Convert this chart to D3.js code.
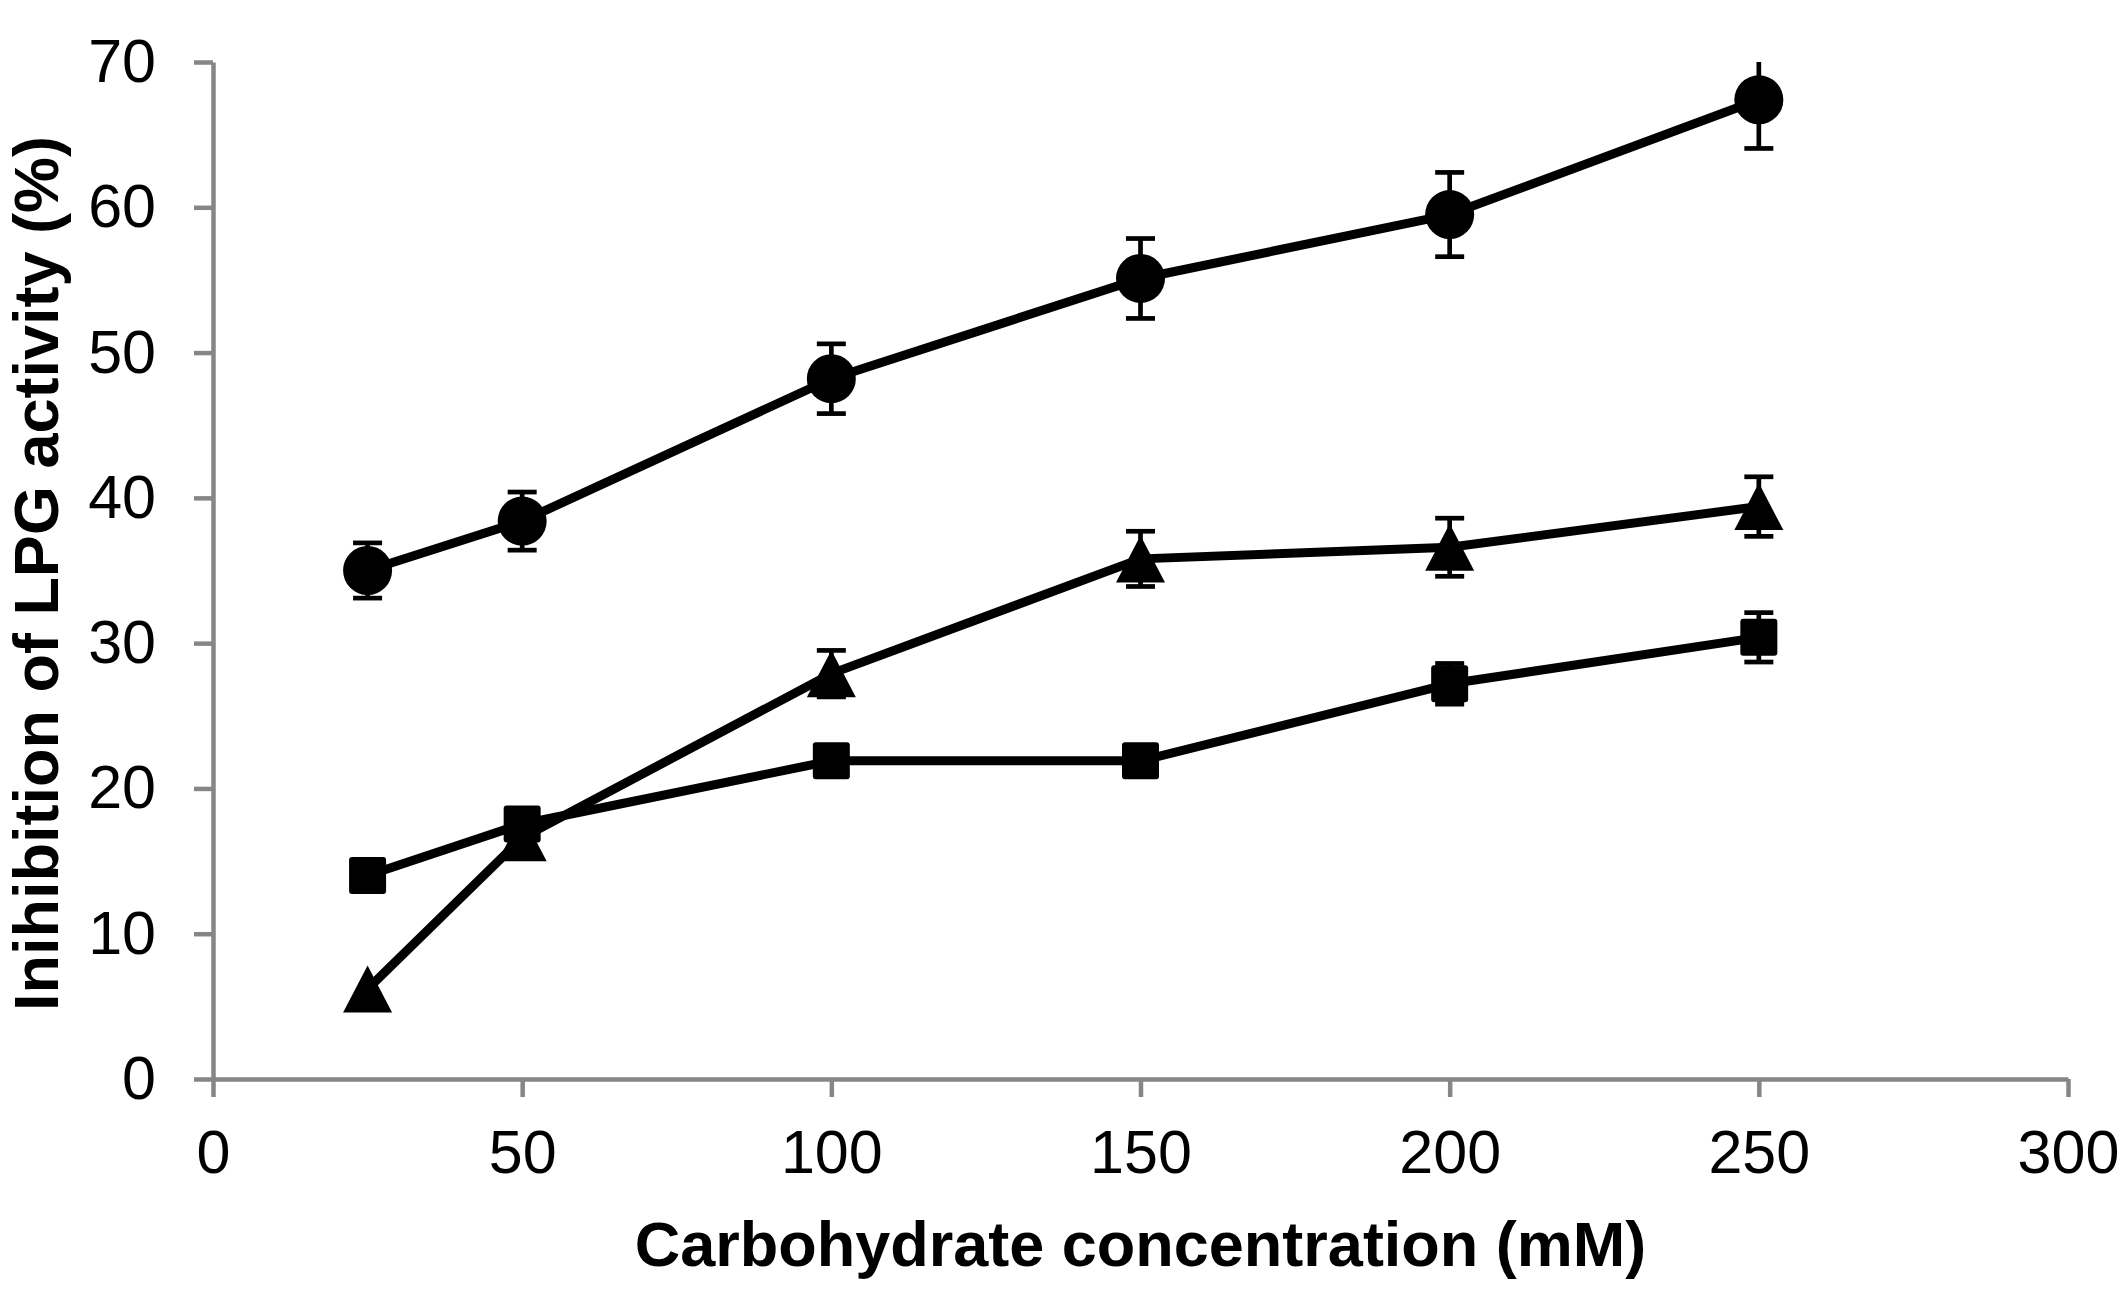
<!DOCTYPE html>
<html>
<head>
<meta charset="utf-8">
<script src="https://cdn.jsdelivr.net/npm/d3@7.9.0/dist/d3.min.js"></script>
<style>
  html, body { margin: 0; padding: 0; background: #fff; }
  svg { display: block; font-family: Arial, "Liberation Sans", sans-serif; }
  .axis path, .axis line { stroke: #868686; stroke-width: 4.5; }
  .axis text { font-size: 61px; fill: #000; font-family: Arial, "Liberation Sans", sans-serif; }
  .title { font-size: 63px; font-weight: bold; fill: #000; }
</style>
</head>
<body>
<svg id="chart" width="2125" height="1299"></svg>
<script>
// carbohydrate concentration (mM)
const concentrations = [25, 50, 100, 150, 200, 250];

// inhibition (%) and error bars, one pair per marker series
const circleValues = [35.0, 38.4, 48.2, 55.1, 59.5, 67.4];
const circleErrors = [1.9, 2.0, 2.4, 2.75, 2.9, 3.35];
const triangleValues = [6.2, 16.6, 27.9, 35.8, 36.6, 39.4];
const triangleErrors = [0, 0, 1.6, 1.9, 2.0, 2.05];
const squareValues = [14.0, 17.55, 21.9, 21.9, 27.2, 30.4];
const squareErrors = [0.4, 0.4, 0.4, 0.4, 1.4, 1.7];

const xTicks = [0, 50, 100, 150, 200, 250, 300];
const yTicks = [0, 10, 20, 30, 40, 50, 60, 70];

const xTitle = 'Carbohydrate concentration (mM)';
const yTitle = 'Inihibition of LPG activity (%)';

const plotLeft = 213, plotRight = 2068, plotTop = 62, plotBottom = 1079;

const svg = d3.select('#chart');

const x = d3.scaleLinear().domain([0, 300]).range([plotLeft, plotRight]);
const y = d3.scaleLinear().domain([0, 70]).range([plotBottom, plotTop]);

// axes
svg.append('g')
  .attr('class', 'axis')
  .attr('transform', `translate(0,${plotBottom})`)
  .call(d3.axisBottom(x).tickValues(xTicks).tickSize(18).tickSizeOuter(0).tickPadding(33));

svg.append('g')
  .attr('class', 'axis')
  .attr('transform', `translate(${plotLeft},0)`)
  .call(d3.axisLeft(y).tickValues(yTicks).tickSize(19).tickSizeOuter(0).tickPadding(38));

svg.selectAll('.axis').attr('font-family', null).attr('font-size', null);

// titles
svg.append('text')
  .attr('class', 'title')
  .attr('x', (plotLeft + plotRight) / 2)
  .attr('y', 1266)
  .attr('text-anchor', 'middle')
  .text(xTitle);

svg.append('text')
  .attr('class', 'title')
  .attr('transform', `translate(58,${(plotTop + plotBottom) / 2 + 3}) rotate(-90)`)
  .attr('text-anchor', 'middle')
  .text(yTitle);

svg.append('clipPath')
  .attr('id', 'plot-clip')
  .append('rect')
  .attr('x', plotLeft)
  .attr('y', plotTop)
  .attr('width', plotRight - plotLeft)
  .attr('height', plotBottom - plotTop);

const series = [
  { shape: 'circle', values: circleValues, errors: circleErrors },
  { shape: 'square', values: squareValues, errors: squareErrors },
  { shape: 'triangle', values: triangleValues, errors: triangleErrors }
];

const line = d3.line()
  .x((d) => x(d.conc))
  .y((d) => y(d.value));

const capHalf = 14.5;

series.forEach((s) => {
  const points = concentrations.map((conc, i) => ({
    conc,
    value: s.values[i],
    err: s.errors[i]
  }));
  const withErr = points.filter((d) => d.err > 0);

  const g = svg.append('g');

  // error bars
  const bars = g.append('g')
    .attr('clip-path', 'url(#plot-clip)')
    .attr('stroke', '#000')
    .attr('stroke-width', 4.7);

  bars.selectAll('line.stem')
    .data(withErr)
    .join('line')
    .attr('class', 'stem')
    .attr('x1', (d) => x(d.conc))
    .attr('x2', (d) => x(d.conc))
    .attr('y1', (d) => y(d.value + d.err))
    .attr('y2', (d) => y(d.value - d.err));

  bars.selectAll('line.cap')
    .data(withErr.flatMap((d) => [
      { conc: d.conc, v: d.value + d.err },
      { conc: d.conc, v: d.value - d.err }
    ]))
    .join('line')
    .attr('class', 'cap')
    .attr('x1', (d) => x(d.conc) - capHalf)
    .attr('x2', (d) => x(d.conc) + capHalf)
    .attr('y1', (d) => y(d.v))
    .attr('y2', (d) => y(d.v));

  g.append('path')
    .datum(points)
    .attr('fill', 'none')
    .attr('stroke', '#000')
    .attr('stroke-width', 9)
    .attr('stroke-linejoin', 'round')
    .attr('d', line);

  if (s.shape === 'circle') {
    g.selectAll('circle')
      .data(points)
      .join('circle')
      .attr('cx', (d) => x(d.conc))
      .attr('cy', (d) => y(d.value))
      .attr('r', 24.5)
      .attr('fill', '#000');
  } else if (s.shape === 'square') {
    g.selectAll('rect')
      .data(points)
      .join('rect')
      .attr('x', (d) => x(d.conc) - 18.5)
      .attr('y', (d) => y(d.value) - 18.5)
      .attr('width', 37)
      .attr('height', 37)
      .attr('rx', 3)
      .attr('fill', '#000');
  } else {
    // triangle centred on its bounding box
    g.selectAll('path.tri')
      .data(points)
      .join('path')
      .attr('class', 'tri')
      .attr('fill', '#000')
      .attr('d', (d) => {
        const cx = x(d.conc), cy = y(d.value);
        return `M${cx},${cy - 23.5}L${cx + 24.5},${cy + 23.5}L${cx - 24.5},${cy + 23.5}Z`;
      });
  }
});
</script>
</body>
</html>
